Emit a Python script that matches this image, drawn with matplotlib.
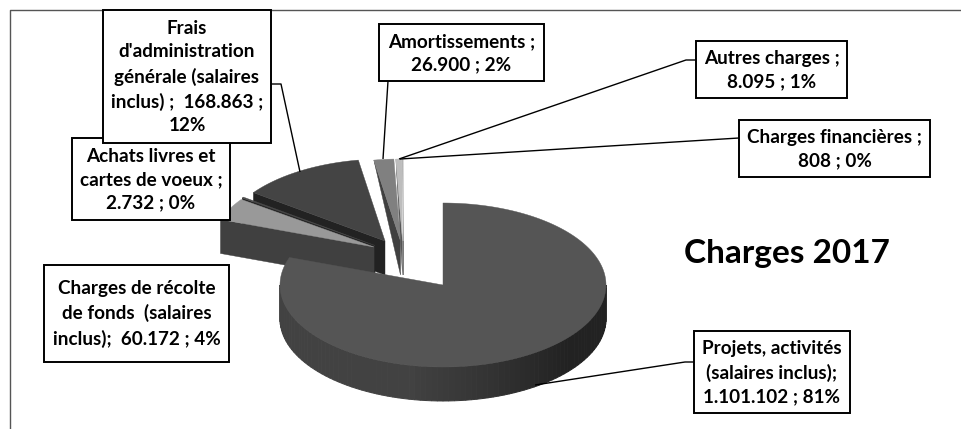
import numpy as np
import matplotlib
matplotlib.use("Agg")
import matplotlib.pyplot as plt
from matplotlib.patches import Polygon, Rectangle

plt.rcParams['font.family'] = ['Lato', 'DejaVu Sans']

# --- data (in chart order, clockwise from 12 o'clock) ---
categories = ["Projets, activités (salaires inclus)", "Charges de récolte de fonds (salaires inclus)",
              "Achats livres et cartes de voeux", "Frais d'administration générale (salaires inclus)",
              "Amortissements", "Autres charges", "Charges financières"]
values = [1101102, 60172, 2732, 168863, 26900, 8095, 808]
labels = ["Projets, activités\n(salaires inclus);\n1.101.102 ; 81%",
          "Charges de récolte\nde fonds  (salaires\ninclus);  60.172 ; 4%",
          "Achats livres et\ncartes de voeux ;\n2.732 ; 0%",
          "Frais\nd'administration\ngénérale (salaires\ninclus) ;  168.863 ;\n12%",
          "Amortissements ;\n26.900 ; 2%",
          "Autres charges ;\n8.095 ; 1%",
          "Charges financières ;\n808 ; 0%"]
title = "Charges 2017"

# --- layout / style ---
W, H = 962, 429
RX, RY, DEPTH = 163, 82, 34
tips = [(443, 285), (374, 247), (375, 245.5), (385, 241), (400.5, 241), (402.5, 241), (403.5, 241)]
rim_depth = [34, 34, 30, 34, 0, 0, 0]
top_cols = ['#555555', '#999999', '#4a4a4a', '#444444', '#808080', '#bdbdbd', '#dddddd']
wall_cols = ['#3c3c3c', '#404040', '#262626', '#222222', '#404040', '#555555', '#666666']
boxes = [(694, 331, 850, 413), (44, 265, 229, 362), (72, 138, 230, 220), (103, 10, 271, 143),
         (379, 24, 544, 81), (696, 41, 847, 98), (739, 120, 930, 177)]
leaders = [[(694, 362), (685, 362), (535, 385)],
           None, None,
           [(271, 84), (281, 84), (300, 172)],
           [(388, 81), (383, 159)],
           [(696, 60), (686, 60), (399, 159)],
           [(739, 138), (400, 159)]]
zs = [6, 5, 4, 3, 2, 2.2, 2.4]

fig = plt.figure(figsize=(W / 100, H / 100), dpi=100, facecolor='white')
ax = fig.add_axes([0, 0, 1, 1])
ax.set_xlim(0, W)
ax.set_ylim(H, 0)
ax.axis('off')

# chart frame (top and left edges only)
ax.plot([10.5, 10.5, W], [H, 10, 10], color='#555555', lw=1.0, zorder=1)

fracs = np.array(values, dtype=float) / sum(values)
edges = np.concatenate([[0], np.cumsum(fracs) * 360])


def rim(tip, a):
    a = np.radians(a)
    return tip[0] + RX * np.sin(a), tip[1] - RY * np.cos(a)


for i in [6, 5, 4, 3, 2, 1, 0]:
    tip = tips[i]
    a0, a1 = edges[i], edges[i + 1]
    z = zs[i]
    # cut face at the start edge of the slice
    if i != 0:
        sx, sy = rim(tip, a0)
        wall = [(sx, sy), tip, (tip[0], tip[1] + DEPTH), (sx, sy + rim_depth[i])]
        ax.add_patch(Polygon(wall, closed=True, fc=wall_cols[i], ec=wall_cols[i], lw=0.3, zorder=z))
    # outer front wall of the main slice, shaded from left to right
    if i == 0:
        steps = np.arange(90, 270, 2.0)
        for s in steps:
            t = np.clip((s - 130) / 60.0, 0, 1)   # 0 on right, 1 on left
            g = 0x22 + int(t * (0x42 - 0x22))
            col = (g / 255,) * 3
            p0, p1 = rim(tip, s), rim(tip, s + 2.0)
            ax.add_patch(Polygon([p0, p1, (p1[0], p1[1] + DEPTH), (p0[0], p0[1] + DEPTH)],
                                 closed=True, fc=col, ec=col, lw=0.7, zorder=z))
    # top face
    angs = np.linspace(a0, a1, max(3, int((a1 - a0) * 2)))
    pts = [tip] + [rim(tip, a) for a in angs]
    ax.add_patch(Polygon(pts, closed=True, fc=top_cols[i], ec=top_cols[i], lw=0.3, zorder=z + 0.1))

# data labels and leader lines
for lab, b, ld in zip(labels, boxes, leaders):
    if ld is not None:
        xs, ys = zip(*ld)
        ax.plot(xs, ys, color='black', lw=1.0, zorder=8, solid_capstyle='butt')
    ax.add_patch(Rectangle((b[0], b[1]), b[2] - b[0], b[3] - b[1], fc='white', ec='black', lw=1.4, zorder=9))
for lab, b in zip(labels, boxes):
    ax.text((b[0] + b[2]) / 2, (b[1] + b[3]) / 2 + 0.5, lab, ha='center', va='center', multialignment='center',
            fontsize=13.6, fontweight='bold', color='black', linespacing=1.46, zorder=11)

ax.text(787, 253, title, ha='center', va='center', fontsize=24, fontweight='bold', color='black', zorder=11)

fig.savefig('out.png', dpi=100)
